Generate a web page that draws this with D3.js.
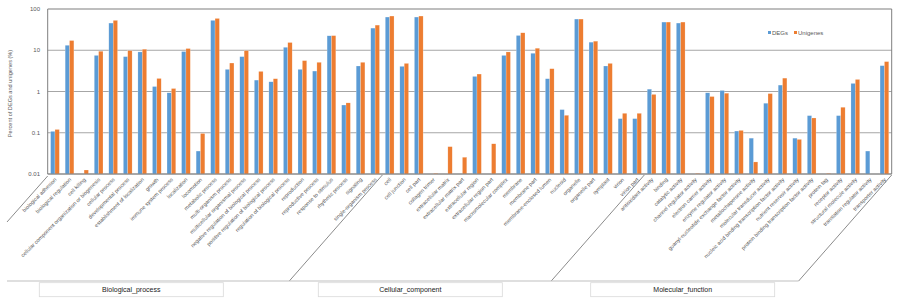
<!DOCTYPE html>
<meta charset="utf-8">
<script src="https://d3js.org/d3.v7.min.js"></script>
<style>
  body { margin: 0; background: #fff; }
  text { font-family: Arial, "Liberation Sans", sans-serif; }
</style>
<body>
<div id="chart"></div>
<script>

// GO categories, in the order they appear on the axis
var bioProcess = ["biological adhesion", "biological regulation", "cell killing",
  "cellular component organization or biogenesis", "cellular process", "developmental process",
  "establishment of localization", "growth", "immune system process", "localization",
  "locomotion", "metabolic process", "multi-organism process", "multicellular organismal process",
  "negative regulation of biological process", "positive regulation of biological process",
  "regulation of biological process", "reproduction", "reproductive process",
  "response to stimulus", "rhythmic process", "signaling", "single-organism process"];
var cellComponent = ["cell", "cell junction", "cell part", "collagen trimer", "extracellular matrix",
  "extracellular matrix part", "extracellular region", "extracellular region part",
  "macromolecular complex", "membrane", "membrane part", "membrane-enclosed lumen", "nucleoid",
  "organelle", "organelle part", "symplast", "virion", "virion part"];
var molFunction = ["antioxidant activity", "binding", "catalytic activity", "channel regulator activity",
  "electron carrier activity", "enzyme regulator activity", "guanyl-nucleotide exchange factor activity",
  "metallochaperone activity", "molecular transducer activity",
  "nucleic acid binding transcription factor activity", "nutrient reservoir activity",
  "protein binding transcription factor activity", "protein tag", "receptor activity",
  "structural molecule activity", "translation regulator activity", "transporter activity"];

var groupNames = ["Biological_process", "Cellular_component", "Molecular_function"];

// percent values (null = no bar)
var degs = [0.108, 13.2, null, 7.5, 45.6, 7.0, 9.1, 1.32, 0.93, 9.3, 0.036, 53, 3.44, 7.0, 1.89, 1.72,
  11.8, 3.44, 3.13, 22.4, 0.47, 4.15, 34.4,
  63.8, 4.07, 63.8, null, null, null, 2.32, null, 7.5, 22.8, 8.45, 2.04, 0.364, 57, 15.7, 4.15, 0.22, 0.22,
  1.14, 48.2, 45.6, null, 0.93, 1.06, 0.11, 0.074, 0.52, 1.43, 0.074, 0.26, null, 0.26, 1.57, 0.036, 4.23];
var unigenes = [0.12, 17.2, 0.0125, 9.46, 53, 9.8, 10.6, 2.07, 1.18, 11, 0.096, 59, 4.9, 9.8, 3.07, 2.04,
  15.4, 5.6, 5.1, 22.6, 0.53, 5.1, 40.7,
  67.5, 4.8, 67.5, 0.0104, 0.046, 0.0255, 2.65, 0.054, 9.1, 26.5, 11.2, 3.57, 0.265, 57, 16.6, 4.8, 0.296, 0.296,
  0.85, 48.2, 48.2, 0.0104, 0.755, 0.91, 0.114, 0.0196, 0.89, 2.11, 0.069, 0.228, 0.0104, 0.415, 1.96, null, 5.3];

var yTicks = [0.01, 0.1, 1, 10, 100];
var yTickLabels = ["0.01", "0.1", "1", "10", "100"];

var categories = bioProcess.concat(cellComponent, molFunction);
var groupSizes = [bioProcess.length, cellComponent.length, molFunction.length];

var width = 900, height = 304;
var margin = {top: 9, right: 8.3, bottom: 130, left: 47.7};
var plotBottom = 174;

var svg = d3.select("#chart").append("svg")
    .attr("width", width)
    .attr("height", height);

var x = d3.scaleBand()
    .domain(categories)
    .range([margin.left, width - margin.right]);

var x1 = d3.scaleBand()
    .domain(["DEGs", "Unigenes"])
    .range([x.step() * 0.2, x.step() * 0.8]);

var y = d3.scaleLog()
    .domain([0.01, 100])
    .range([plotBottom, margin.top]);

var colors = {DEGs: "#5b9bd5", Unigenes: "#ed7d31"};

// gridlines
svg.append("g")
  .selectAll("line")
  .data(yTicks)
  .enter().append("line")
    .attr("x1", margin.left)
    .attr("x2", width - margin.right)
    .attr("y1", function(d) { return y(d); })
    .attr("y2", function(d) { return y(d); })
    .attr("stroke", function(d) { return d == 100 ? "#7f7f7f" : "#a6a6a6"; })
    .attr("stroke-width", 1.2);

// left / right frame
svg.append("line")
    .attr("x1", margin.left).attr("x2", margin.left)
    .attr("y1", y(100)).attr("y2", y(0.01))
    .attr("stroke", "#7f7f7f").attr("stroke-width", 1);
svg.append("line")
    .attr("x1", width - margin.right).attr("x2", width - margin.right)
    .attr("y1", y(100)).attr("y2", y(0.01))
    .attr("stroke", "#7f7f7f").attr("stroke-width", 1);

// y tick labels
svg.append("g")
  .selectAll("text")
  .data(yTicks)
  .enter().append("text")
    .attr("x", 40)
    .attr("y", function(d) { return y(d) + 2; })
    .attr("text-anchor", "end")
    .attr("font-size", 6)
    .attr("fill", "#595959")
    .text(function(d, i) { return yTickLabels[i]; });

svg.append("text")
    .attr("transform", "translate(12," + (y(1) + 2) + ") rotate(-90)")
    .attr("text-anchor", "middle")
    .attr("font-size", 5.6)
    .attr("fill", "#595959")
    .text("Percent of DEGs and unigenes (%)");

// bars
var rows = categories.map(function(c, i) {
    return {cat: c, values: [{key: "DEGs", v: degs[i]}, {key: "Unigenes", v: unigenes[i]}]};
});

var catG = svg.append("g")
  .selectAll("g")
  .data(rows)
  .enter().append("g")
    .attr("transform", function(d) { return "translate(" + x(d.cat) + ",0)"; });

catG.selectAll("rect")
  .data(function(d) { return d.values.filter(function(e) { return e.v != null; }); })
  .enter().append("rect")
    .attr("x", function(d) { return x1(d.key); })
    .attr("width", x1.bandwidth())
    .attr("y", function(d) { return y(d.v); })
    .attr("height", function(d) { return y(0.01) - y(d.v); })
    .attr("fill", function(d) { return colors[d.key]; })
    .attr("stroke", "#fff")
    .attr("stroke-opacity", 0.5)
    .attr("stroke-width", 0.4);

// x axis line
svg.append("line")
    .attr("x1", margin.left).attr("x2", width - margin.right)
    .attr("y1", plotBottom).attr("y2", plotBottom)
    .attr("stroke", "#7f7f7f").attr("stroke-width", 1);

// category labels
svg.append("g")
  .selectAll("text")
  .data(categories)
  .enter().append("text")
    .attr("transform", function(d) {
        return "translate(" + (x(d) + x.bandwidth() / 2 + 2) + "," + (plotBottom + 6) + ") rotate(-45)";
    })
    .attr("text-anchor", "end")
    .attr("font-size", 5.4)
    .attr("fill", "#595959")
    .text(function(d) { return d; });

// group separators (slanted multi-level axis lines)
var lineY = 281;
var slant = (lineY - plotBottom) * 0.87;
var bounds = [0, groupSizes[0], groupSizes[0] + groupSizes[1], categories.length];
var sepG = svg.append("g").attr("stroke", "#595959").attr("stroke-width", 0.7);
bounds.forEach(function(b, i) {
    var bx = margin.left + b * x.step();
    if (i == 0) {
        sepG.append("line")
            .attr("x1", bx).attr("y1", plotBottom + 2)
            .attr("x2", 7).attr("y2", 222);
    } else {
        sepG.append("line")
            .attr("x1", bx).attr("y1", plotBottom + 1)
            .attr("x2", bx - slant).attr("y2", lineY);
    }
});
sepG.append("line")
    .attr("x1", 7).attr("x2", width - margin.right - slant)
    .attr("y1", lineY).attr("y2", lineY)
    .attr("stroke", "#bfbfbf").attr("stroke-width", 1.2);

// group label boxes
var boxX = [39.3, 318.3, 590.7];
groupNames.forEach(function(g, i) {
    svg.append("rect")
        .attr("x", boxX[i]).attr("y", 282.7)
        .attr("width", 184).attr("height", 14)
        .attr("fill", "#fff")
        .attr("stroke", "#d9d9d9").attr("stroke-width", 0.8);
    svg.append("text")
        .attr("x", boxX[i] + 92).attr("y", 292.3)
        .attr("text-anchor", "middle")
        .attr("font-size", 7)
        .attr("fill", "#1a1a1a")
        .text(g);
});

// legend
var legend = svg.append("g").attr("transform", "translate(768,0)");
[["DEGs", 0], ["Unigenes", 26]].forEach(function(l) {
    legend.append("rect")
        .attr("x", l[1]).attr("y", 31)
        .attr("width", 3).attr("height", 3)
        .attr("fill", colors[l[0]]);
    legend.append("text")
        .attr("x", l[1] + 4).attr("y", 34.5)
        .attr("font-family", "'Liberation Serif', 'DejaVu Serif', serif")
        .attr("font-size", 6)
        .attr("fill", "#595959")
        .text(l[0]);
});

</script>
</body>
